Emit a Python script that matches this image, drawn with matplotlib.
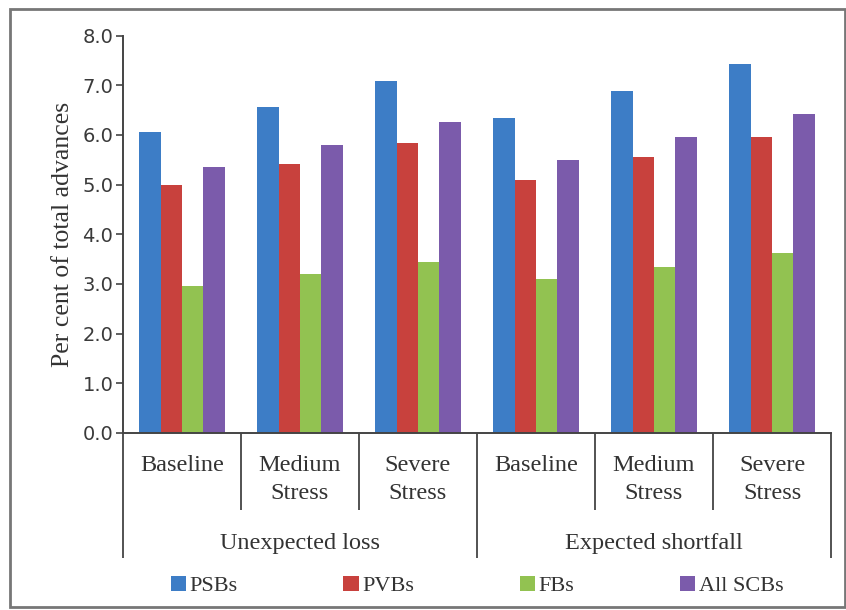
import numpy as np
import matplotlib
matplotlib.use("Agg")
import matplotlib.pyplot as plt
from matplotlib.patches import Rectangle

# Data
scenarios = ["Baseline", "Medium\nStress", "Severe\nStress",
             "Baseline", "Medium\nStress", "Severe\nStress"]
measures = ["Unexpected loss", "Expected shortfall"]
series = ["PSBs", "PVBs", "FBs", "All SCBs"]
psbs = [6.05, 6.56, 7.08, 6.35, 6.88, 7.42]
pvbs = [5.00, 5.42, 5.84, 5.10, 5.55, 5.95]
fbs = [2.95, 3.20, 3.45, 3.10, 3.35, 3.62]
all_scbs = [5.36, 5.80, 6.26, 5.50, 5.95, 6.42]
yticks = [0.0, 1.0, 2.0, 3.0, 4.0, 5.0, 6.0, 7.0, 8.0]

colors = ["#3D7DC6", "#C8413D", "#92C251", "#7B5BAB"]
SERIF = ["Liberation Serif", "DejaVu Serif"]
W, H = 846, 610

fig = plt.figure(figsize=(W / 100, H / 100), dpi=100)
ax = fig.add_axes([123 / W, (H - 433) / H, (831 - 123) / W, (433 - 35.6) / H])

x = np.arange(len(scenarios))
bw = 0.182
for i, (vals, c, lab) in enumerate(zip([psbs, pvbs, fbs, all_scbs], colors, series)):
    ax.bar(x + (i - 1.5) * bw, vals, bw, color=c, label=lab, linewidth=0)

ax.set_xlim(-0.5, len(scenarios) - 0.5)
ax.set_ylim(0, 8)
ax.set_yticks(yticks)
ax.set_yticklabels([f"{t:.1f}" for t in yticks], fontsize=14, color="#3a3a3a")
ax.tick_params(axis="y", direction="out", length=5, width=1.2, color="#444444", pad=2)
ax.set_xticks([])
for s in ["top", "right"]:
    ax.spines[s].set_visible(False)
for s in ["left", "bottom"]:
    ax.spines[s].set_color("#444444")
    ax.spines[s].set_linewidth(1.4)
ax.set_ylabel("Per cent of total advances", family=SERIF, fontsize=18.5,
              color="#333333", labelpad=6)

# category labels and separators below the axis
tr = ax.get_xaxis_transform()
px = 1 / (433 - 35.6)  # one pixel in axes units (vertical)
for xi, lab in zip(x, scenarios):
    ax.text(xi, -(455 - 433) * px, lab, transform=tr, ha="center", va="top",
            family=SERIF, fontsize=17.5, color="#333333", linespacing=1.45)
n_per = len(scenarios) // len(measures)
for b in np.arange(len(scenarios) + 1) - 0.5:
    outer = int(round(b + 0.5)) % n_per == 0
    y_end = -(558 - 433) * px if outer else -(510 - 433) * px
    ax.plot([b, b], [0, y_end], transform=tr, color="#444444", lw=1.3,
            clip_on=False, solid_capstyle="butt")
for k, m in enumerate(measures):
    ax.text(k * n_per + (n_per - 1) / 2, -(543 - 433) * px, m, transform=tr,
            ha="center", va="center", family=SERIF, fontsize=17.5, color="#333333")

leg = fig.legend(loc="center", bbox_to_anchor=(477 / W, (H - 586) / H), ncol=4,
                 frameon=False, prop={"family": SERIF, "size": 16},
                 handlelength=0.7, handleheight=0.7, handletextpad=0.15,
                 columnspacing=4.75, labelcolor="#333333")

# outer frame
fig.patches.append(Rectangle((10 / W, 3 / H), (W - 11) / W, (H - 12) / H,
                             transform=fig.transFigure, fill=False,
                             edgecolor="#777777", linewidth=2))

fig.savefig("out.png", dpi=100)
